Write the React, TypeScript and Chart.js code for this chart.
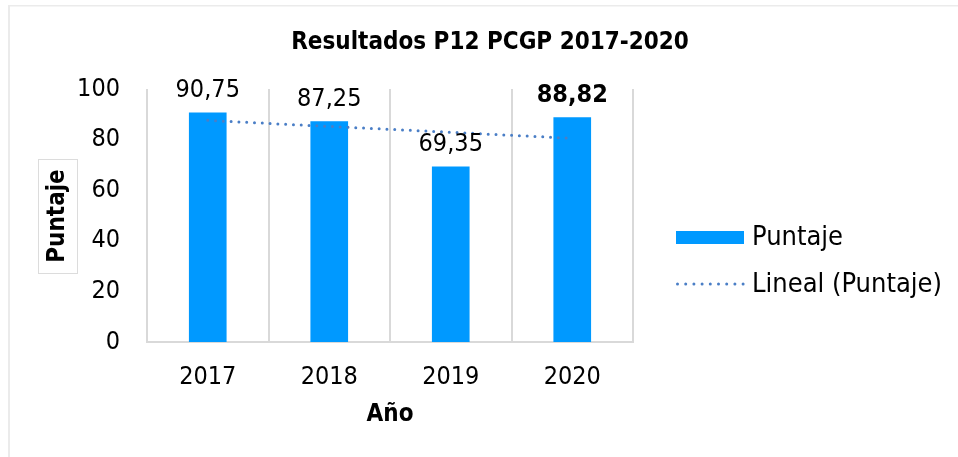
import React, { useEffect, useRef } from "react";
import { Chart, registerables } from "chart.js";

Chart.register(...registerables);

const categories = ["2017", "2018", "2019", "2020"];
const puntaje = [90.75, 87.25, 69.35, 88.82];
const puntajeLabels = ["90,75", "87,25", "69,35", "88,82"];
const labelBold = [false, false, false, true];
const tendencia = [87.6, 85.2, 82.9, 80.5];
const yTickValues = [0, 20, 40, 60, 80, 100];

const chartTitle = "Resultados P12 PCGP 2017-2020";
const xTitle = "Año";
const yTitle = "Puntaje";
const legendBar = "Puntaje";
const legendLine = "Lineal (Puntaje)";

const FONT = '"DejaVu Sans Condensed", "DejaVu Sans", sans-serif';
const BAR_COLOR = "#0099FF";
const LINE_COLOR = "#4A7EC6";
const GRID_COLOR = "#D9D9D9";

const decoPlugin = {
  id: "deco",
  beforeDraw(chart: any) {
    const ctx = chart.ctx;
    ctx.save();
    ctx.fillStyle = "#ffffff";
    ctx.fillRect(0, 0, chart.width, chart.height);
    ctx.fillStyle = "#EBEBEB";
    ctx.fillRect(8, 5, chart.width - 8, 1.5);
    ctx.fillRect(8, 5, 2, chart.height - 5);
    ctx.restore();
  },
  afterDatasetsDraw(chart: any) {
    const ctx = chart.ctx;
    const meta = chart.getDatasetMeta(0);
    ctx.save();
    ctx.fillStyle = "#000";
    ctx.textAlign = "center";
    ctx.textBaseline = "middle";
    meta.data.forEach((bar: any, i: number) => {
      ctx.font = (labelBold[i] ? "bold " : "") + "25px " + FONT;
      ctx.fillText(puntajeLabels[i], bar.x, bar.y - 22);
    });
    ctx.restore();
  },
  afterDraw(chart: any) {
    const ctx = chart.ctx;
    const area = chart.chartArea;
    ctx.save();
    ctx.fillStyle = "#000";
    ctx.textAlign = "center";
    ctx.textBaseline = "middle";
    // title
    ctx.font = "bold 24px " + FONT;
    ctx.fillText(chartTitle, (area.left + area.right) / 2 + 100, 43);
    // x title
    ctx.font = "bold 24px " + FONT;
    ctx.fillText(xTitle, (area.left + area.right) / 2, 415);
    // y title with box
    ctx.strokeStyle = "#DCDCDC";
    ctx.lineWidth = 1;
    ctx.strokeRect(38.5, 159.5, 39, 114);
    ctx.save();
    ctx.translate(58, 216);
    ctx.rotate(-Math.PI / 2);
    ctx.fillText(yTitle, 0, 0);
    ctx.restore();
    // legend
    ctx.fillStyle = BAR_COLOR;
    ctx.fillRect(676, 231, 68, 13);
    ctx.strokeStyle = LINE_COLOR;
    ctx.lineWidth = 3;
    ctx.lineCap = "round";
    ctx.setLineDash([0, 8.2]);
    ctx.beginPath();
    ctx.moveTo(677.5, 284);
    ctx.lineTo(745, 284);
    ctx.stroke();
    ctx.setLineDash([]);
    ctx.fillStyle = "#000";
    ctx.textAlign = "left";
    ctx.font = "27px " + FONT;
    ctx.fillText(legendBar, 752, 238);
    ctx.fillText(legendLine, 752, 285);
    ctx.restore();
  },
};

export default function App() {
  const ref = useRef<HTMLCanvasElement | null>(null);
  useEffect(() => {
    if (!ref.current) return;
    const chart = new Chart(ref.current, {
      type: "bar",
      data: {
        labels: categories,
        datasets: [
          {
            type: "bar",
            label: legendBar,
            data: puntaje,
            backgroundColor: BAR_COLOR,
            categoryPercentage: 1,
            barPercentage: 0.31,
            order: 2,
          } as any,
          {
            type: "line",
            label: legendLine,
            data: tendencia,
            borderColor: LINE_COLOR,
            borderWidth: 3,
            borderDash: [0, 7.8],
            borderCapStyle: "round",
            pointRadius: 0,
            fill: false,
            tension: 0,
            order: 1,
          } as any,
        ],
      },
      options: {
        animation: false,
        responsive: false,
        maintainAspectRatio: false,
        devicePixelRatio: 1,
        layout: { padding: { top: 89, right: 325, bottom: 0, left: 0 } },
        plugins: {
          legend: { display: false },
          title: { display: false },
          tooltip: { enabled: false },
        },
        scales: {
          x: {
            grid: {
              display: true,
              offset: true,
              color: GRID_COLOR,
              lineWidth: 2,
              drawTicks: false,
            },
            border: { display: true, color: GRID_COLOR, width: 2 },
            ticks: {
              color: "#000",
              font: { family: FONT, size: 25 },
              padding: 20,
            },
            afterFit(scale: any) {
              scale.height = 115;
            },
          },
          y: {
            min: 0,
            max: 100,
            grid: { display: false, drawTicks: false },
            border: { display: false },
            afterBuildTicks(scale: any) {
              scale.ticks = yTickValues.map((v) => ({ value: v }));
            },
            ticks: {
              color: "#000",
              font: { family: FONT, size: 25 },
              padding: 27,
            },
            afterFit(scale: any) {
              scale.width = 147;
            },
          },
        },
      },
      plugins: [decoPlugin],
    } as any);
    return () => chart.destroy();
  }, []);
  return (
    <div style={{ position: "fixed", left: 0, top: 0, width: 958, height: 457 }}>
      <canvas ref={ref} width={958} height={457} style={{ width: 958, height: 457 }} />
    </div>
  );
}
